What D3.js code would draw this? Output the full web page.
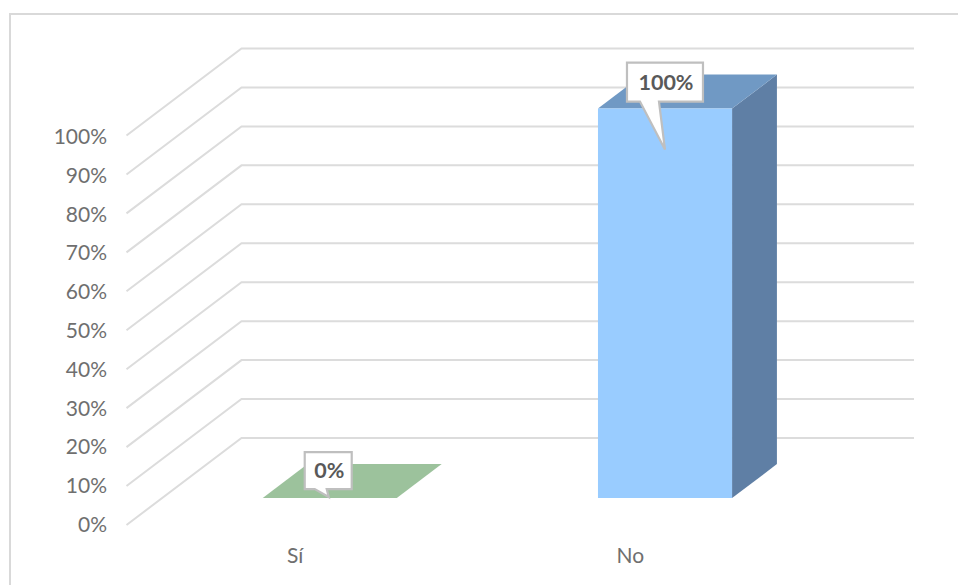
<!DOCTYPE html>
<html>
<head>
<meta charset="utf-8">
<script src="https://cdn.jsdelivr.net/npm/d3@7/dist/d3.min.js"></script>
<style>
html,body{margin:0;padding:0;background:#fff;overflow:hidden}
svg{display:block}
text{font-family:Lato,"Open Sans",sans-serif}
</style>
</head>
<body>
<div id="chart"></div>
<script>
const categories = ["Sí", "No"];
const values = [0, 1];
const valueLabels = ["0%", "100%"];
const tickValues = [0, .1, .2, .3, .4, .5, .6, .7, .8, .9, 1];
const frontColors = ["#9cc29c", "#99ccff"];
const topColors = ["#9cc29c", "#7099c4"];
const sideColors = ["#9cc29c", "#5f7fa5"];

const width = 958, height = 585;
const svg = d3.select("#chart").append("svg").attr("width", width).attr("height", height);

// Frame around the chart area, open on the right and at the bottom
svg.append("path")
  .attr("d", "M10,585V14H958")
  .attr("fill", "none").attr("stroke", "#d9d9d9").attr("stroke-width", 2);

// Oblique projection: depth 0 is the front of the floor, depth 1 the back wall
const depthX = 115, depthY = -87;
const x = d3.scaleBand().domain(categories).range([126.5, 797]).paddingInner(0.6).paddingOuter(0.3);
const y = d3.scaleLinear().domain([0, 1]).range([525, 135.5]);
const labelY = d3.scaleLinear().domain([0, 1]).range([532, 144]);
const project = (px, py, d) => [px + depthX * d, py + depthY * d];
const wallRight = 914;

// Gridlines: slanted on the side wall, then level along the back wall
const grid = svg.append("g").attr("fill", "none").attr("stroke", "#dcdcdc").attr("stroke-width", 2);
grid.selectAll("path").data(tickValues).join("path")
  .attr("d", v => {
    const p0 = project(x.range()[0], y(v), 0);
    const p1 = project(x.range()[0], y(v), 1);
    return d3.line()([p0, p1, [wallRight, p1[1]]]);
  });

// Value axis labels
svg.append("g").selectAll("text").data(tickValues).join("text")
  .attr("x", 107).attr("y", v => labelY(v))
  .attr("text-anchor", "end").attr("font-size", 21).attr("fill", "#6f6f6f")
  .text(d3.format(".0%"));

// Category labels
svg.append("g").selectAll("text").data(categories).join("text")
  .attr("x", c => x(c) + x.bandwidth() / 2 + 1)
  .attr("y", 563)
  .attr("text-anchor", "middle").attr("font-size", 21).attr("fill", "#6f6f6f")
  .text(c => c);

// Bars as three visible faces of a box
const depthFront = 0.31, depthBack = 0.70;
const bars = svg.append("g").selectAll("g").data(categories).join("g");
bars.each(function (c, i) {
  const g = d3.select(this);
  const x0 = x(c), x1 = x0 + x.bandwidth();
  const yb = y(0), yt = y(values[i]);
  const P = (px, py, d) => project(px, py, d);
  const poly = pts => d3.line()(pts) + "Z";
  g.append("path").attr("fill", sideColors[i])
    .attr("d", poly([P(x1, yb, depthFront), P(x1, yb, depthBack), P(x1, yt, depthBack), P(x1, yt, depthFront)]));
  g.append("path").attr("fill", topColors[i])
    .attr("d", poly([P(x0, yt, depthFront), P(x1, yt, depthFront), P(x1, yt, depthBack), P(x0, yt, depthBack)]));
  g.append("path").attr("fill", frontColors[i])
    .attr("d", poly([P(x0, yb, depthFront), P(x1, yb, depthFront), P(x1, yt, depthFront), P(x0, yt, depthFront)]));
});

// Callout labels: box and pointer are offset from the top-front of each bar
const calloutBox = [
  { dx: 42, dy: -46, w: 47, h: 37, tail: [10, 22, 24, 8] },
  { dx: 29, dy: -46, w: 76, h: 39, tail: [13, 32, 38, 48] }
];
const callouts = svg.append("g").selectAll("g").data(categories).join("g");
callouts.each(function (c, i) {
  const g = d3.select(this);
  const b = calloutBox[i];
  const [fx, fy] = project(x(c), y(values[i]), depthFront);
  const left = fx + b.dx, top = fy + b.dy, right = left + b.w, bottom = top + b.h;
  const [t0, t1, tipX, tipY] = b.tail;
  const outline = [
    [left, top], [right, top], [right, bottom],
    [left + t1, bottom], [left + tipX, bottom + tipY], [left + t0, bottom],
    [left, bottom]
  ];
  g.append("path").attr("d", d3.line()(outline) + "Z")
    .attr("fill", "#fff").attr("stroke", "#bfbfbf").attr("stroke-width", 2.2);
  g.append("text")
    .attr("x", (left + right) / 2 + 1).attr("y", (top + bottom) / 2 + 7.5)
    .attr("text-anchor", "middle").attr("font-size", 21.5).attr("font-weight", 700).attr("fill", "#595959")
    .text(valueLabels[i]);
});
</script>
</body>
</html>
